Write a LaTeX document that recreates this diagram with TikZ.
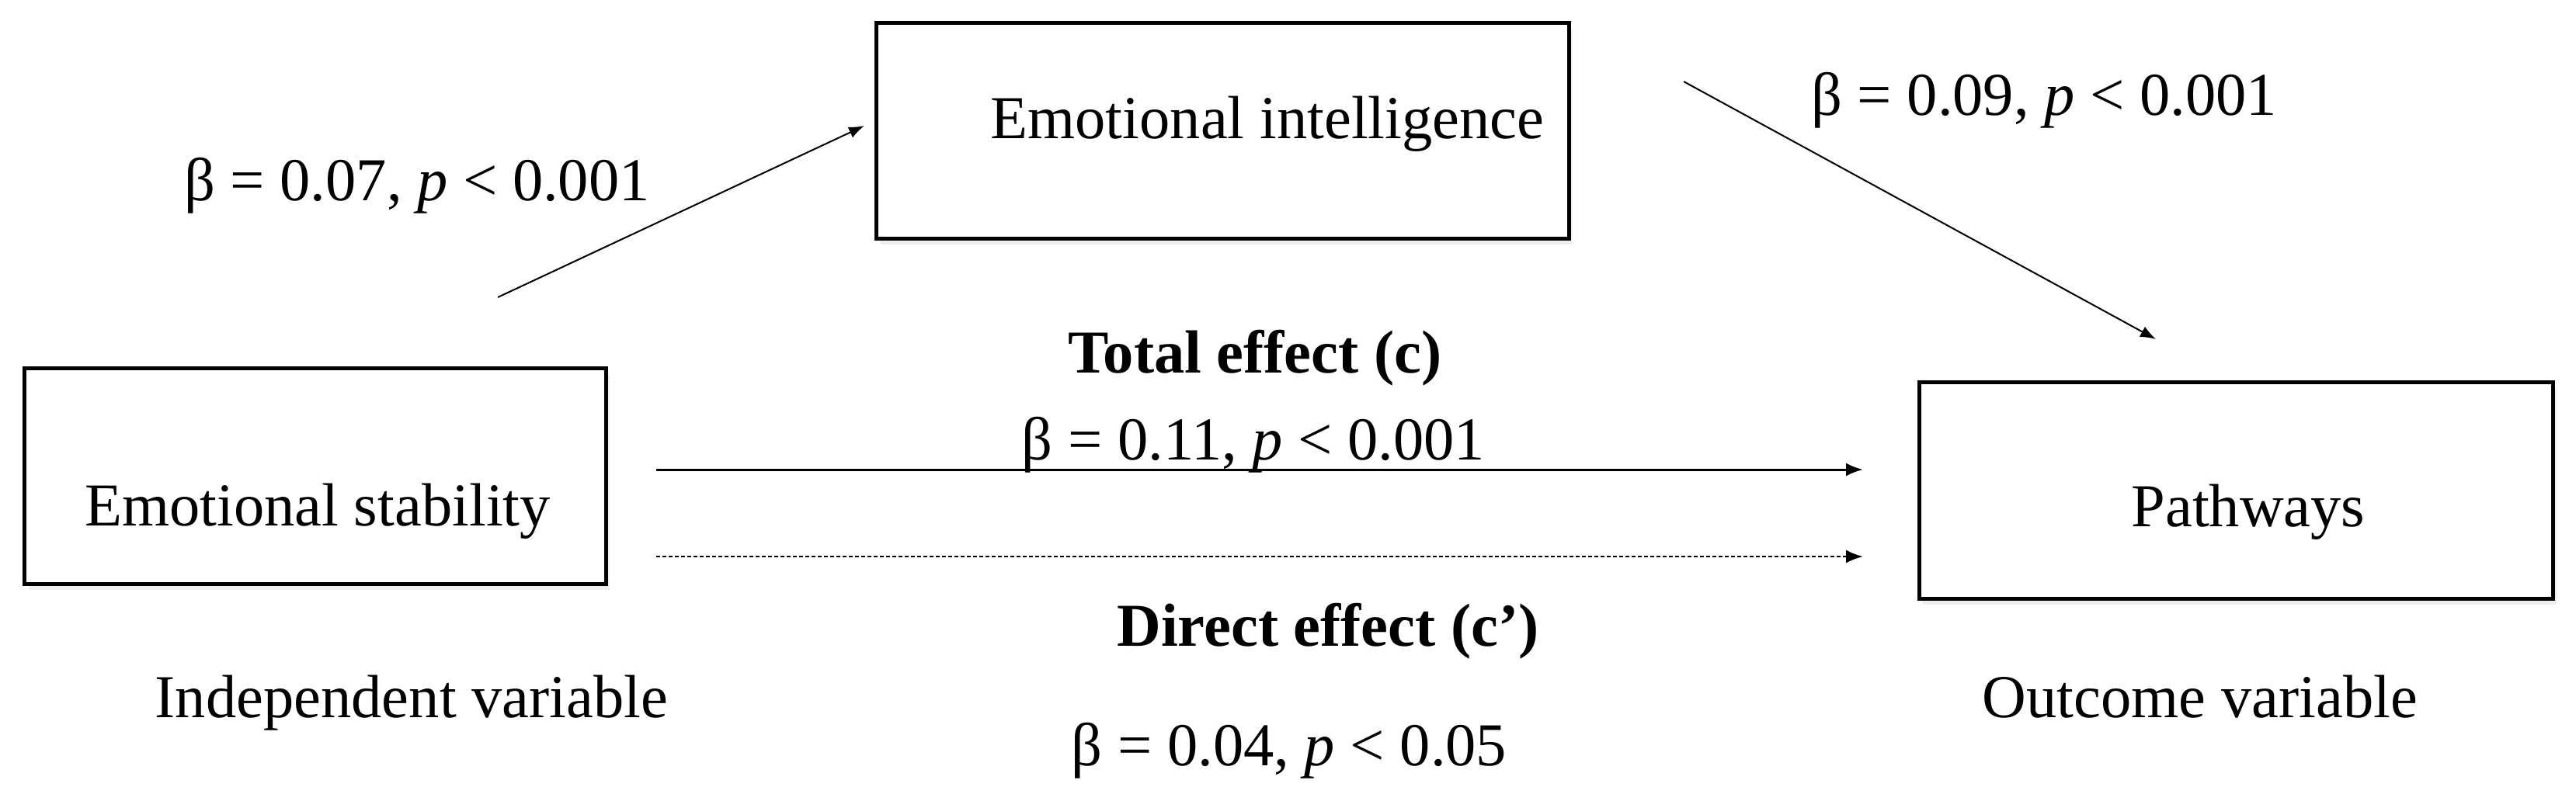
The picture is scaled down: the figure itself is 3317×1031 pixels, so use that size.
\documentclass[tikz,border=0pt]{standalone}
\usepackage{fontspec}
\setmainfont{Liberation Serif}
\usetikzlibrary{arrows.meta,shadows}
\begin{document}
\begin{tikzpicture}[x=0.2pt,y=-0.2pt,
  every node/.style={font=\fontsize{15.7pt}{19pt}\selectfont},
  varbox/.style={draw=black, line width=1pt, fill=white, rectangle, inner sep=0pt,
     drop shadow={opacity=0.12, shadow xshift=1pt, shadow yshift=-1.6pt}},
  lbl/.style={anchor=base, inner sep=0pt},
  thinarrow/.style={line width=0.4pt, -{Latex[length=4pt,width=3pt]}},
  mainarrow/.style={line width=0.6pt, -{Latex[length=4.4pt,width=3.4pt]}},
  dasharrow/.style={line width=0.5pt, dash pattern=on 1pt off 0.6pt, -{Latex[length=4.4pt,width=3.4pt]}}
]
\useasboundingbox (0,0) rectangle (3317,1031);
\fill[white] (0,0) rectangle (3317,1031);

% boxes
\node[varbox, minimum width=178.4pt, minimum height=55.6pt] (ei) at (1574,168) {};
\node[varbox, minimum width=149.6pt, minimum height=55.6pt] (es) at (406,613) {};
\node[varbox, minimum width=163.2pt, minimum height=55.8pt] (pw) at (2879,631.5) {};

% box texts
\node[lbl] (eit) at (1632,178) {Emotional intelligence};
\node[lbl] (est) at (409,677) {Emotional stability};
\node[lbl] (pwt) at (2895,678) {Pathways};

% captions
\node[lbl] (iv) at (530,924) {Independent variable};
\node[lbl] (ov) at (2833,924) {Outcome variable};

% coefficients
\node[lbl] (b1) at (537,258) {β = 0.07, \textit{p} < 0.001};
\node[lbl] (b2) at (2632,148) {β = 0.09, \textit{p} < 0.001};
\node[lbl] (tot) at (1616,480) {\textbf{Total effect (c)}};
\node[lbl] (b3) at (1614,592) {β = 0.11, \textit{p} < 0.001};
\node[lbl] (dir) at (1710,832) {\textbf{Direct effect (c’)}};
\node[lbl] (b4) at (1660,986) {β = 0.04, \textit{p} < 0.05};

% connector end points
\coordinate (a1s) at (641,383);
\coordinate (a1e) at (1113,162);
\coordinate (a2s) at (2168,105);
\coordinate (a2e) at (2776,437);
\coordinate (cs) at (845,605);
\coordinate (ce) at (2399,605);
\coordinate (ds) at (845,717);
\coordinate (de) at (2399,717);

\draw[thinarrow] (a1s) -- (a1e);
\draw[thinarrow] (a2s) -- (a2e);
\draw[mainarrow] (cs) -- (ce);
\draw[dasharrow] (ds) -- (de);
\end{tikzpicture}
\end{document}
